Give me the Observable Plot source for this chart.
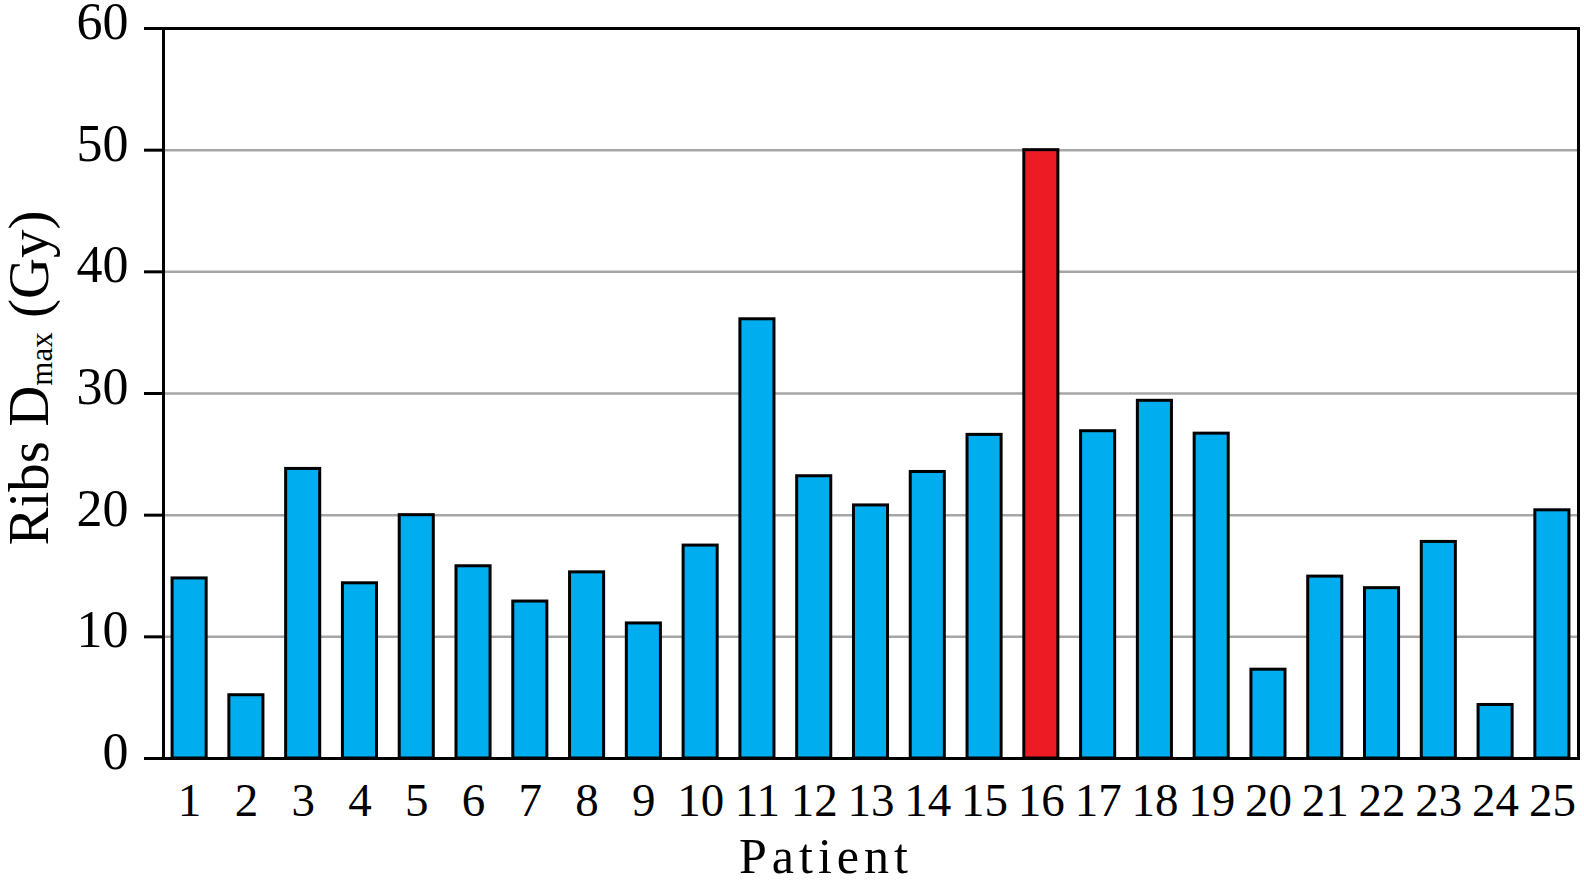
<!DOCTYPE html>
<html><head><meta charset="utf-8">
<script src="https://cdn.jsdelivr.net/npm/d3@7"></script>
<script src="https://cdn.jsdelivr.net/npm/@observablehq/plot@0.6"></script>
<style>body{margin:0;background:#fff} svg{display:block}</style>
</head><body><div id="chart"></div>
<script>
const patients = ["1","2","3","4","5","6","7","8","9","10","11","12","13","14","15","16","17","18","19","20","21","22","23","24","25"];
const dmax = [14.8, 5.2, 23.8, 14.4, 20.0, 15.8, 12.9, 15.3, 11.1, 17.5, 36.1, 23.2, 20.8, 23.55, 26.6, 50.0, 26.9, 29.4, 26.7, 7.3, 14.95, 14.0, 17.8, 4.4, 20.4];
const highlighted = ["16"];
const yTicks = [0, 10, 20, 30, 40, 50, 60];
const gridValues = [10, 20, 30, 40, 50];
const xTitle = "Patient";
const yTitleMain = "Ribs D";
const yTitleSub = "max";
const yTitleEnd = " (Gy)";

const data = patients.map((p, i) => ({patient: p, dmax: dmax[i], high: highlighted.includes(p)}));

const plot = Plot.plot({
  width: 1584, height: 883,
  marginLeft: 163, marginRight: 6, marginTop: 28, marginBottom: 125,
  style: {fontFamily: "'Liberation Serif', serif", background: "#fff", color: "#000"},
  x: {domain: patients, paddingInner: 0.4, paddingOuter: 0.16, round: false, label: null},
  y: {domain: [0, 60], label: null},
  marks: [
    Plot.ruleY(gridValues, {stroke: "#a6a6a6", strokeWidth: 2.5}),
    Plot.barY(data, {x: "patient", y: "dmax", fill: d => d.high ? "#ed1c24" : "#00aeef", stroke: "#000", strokeWidth: 3}),
    Plot.ruleY([0], {stroke: "#000", strokeWidth: 3}),
    Plot.frame({stroke: "#000", strokeWidth: 3}),
    Plot.axisY({ticks: yTicks, tickSize: 19, strokeWidth: 3, fill: "none", label: null}),
    Plot.axisY({ticks: yTicks, tickSize: 19, tickPadding: 16, stroke: "none", fontSize: 52, dy: -6, tickFormat: d => String(d), label: null}),
    Plot.axisX({tickSize: 0, tickPadding: 24, fontSize: 47, label: null}),
    Plot.text([xTitle], {frameAnchor: "bottom", lineAnchor: "bottom", dy: 114, dx: -45, fontSize: 50, fill: "#000"})
  ]
});

const svg = d3.select(plot);
svg.selectAll("text").filter(function() { return this.textContent === xTitle; }).attr("letter-spacing", "5px");

const yt = svg.append("text")
  .attr("transform", "translate(48,378) rotate(-90)")
  .attr("text-anchor", "middle")
  .attr("font-family", "'Liberation Serif', serif")
  .attr("font-size", 57)
  .attr("fill", "#000");
yt.append("tspan").text(yTitleMain);
yt.append("tspan").attr("font-size", 31).attr("dy", 4).text(yTitleSub);
yt.append("tspan").attr("dy", -4).text(yTitleEnd);

document.getElementById("chart").appendChild(plot);
</script>
</body></html>
